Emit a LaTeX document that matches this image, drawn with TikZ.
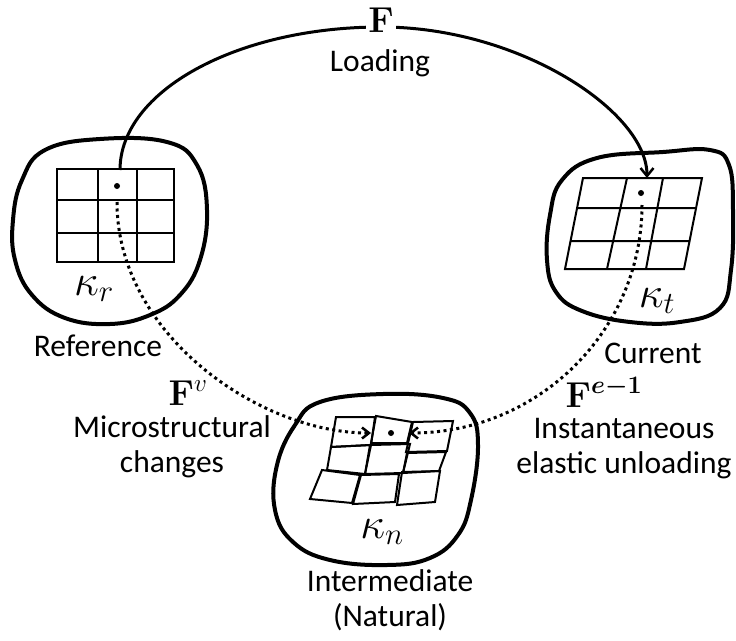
\RequirePackage{fix-cm}
\documentclass[tikz,border=0pt]{standalone}
\usepackage{bm}
\usepackage[no-math]{fontspec}
\setmainfont{Carlito}
\usetikzlibrary{arrows.meta}
\begin{document}
\begin{tikzpicture}[x=1pt,y=-1pt,
 lbl/.style={font=\fontsize{31.5}{35}\selectfont, inner sep=0pt, anchor=base},
 mth/.style={font=\fontsize{36}{40}\selectfont, inner sep=0pt},
 kap/.style={font=\fontsize{44}{48}\selectfont, inner sep=0pt, anchor=base},
 blob/.style={line width=4pt, line join=round},
 gridl/.style={line width=2pt, line join=miter},
 dotnode/.style={circle, fill, inner sep=0pt, minimum size=6pt},
 loadarrow/.style={line width=3pt, -{Straight Barb[length=8pt,width=13pt,line width=2.5pt]}},
 dotarrow/.style={line width=3pt, dash pattern=on 3pt off 3.5pt, -{Straight Barb[length=7pt,width=11pt,line width=2.5pt]}},
]
\useasboundingbox (0,0) rectangle (736,640);

% ---------- Reference configuration ----------
\draw[blob] plot[smooth cycle, tension=0.7] coordinates {
 (100,139) (167,142) (197,165) (207,210) (200,260) (180,295) (150,315)
 (110,324) (65,318) (32,295) (15,260) (13,220) (22,180) (45,150)};
\draw[gridl] (57,169) rectangle (174,262);
\draw[gridl] (98,169) -- (98,262) (137,169) -- (137,262)
             (57,200) -- (174,200) (57,233) -- (174,233);
\node[dotnode] (rdot) at (117,186) {};
\node[kap] (kr) at (94,295) {$\kappa_r$};
\node[lbl] (ref) at (98,356) {Reference};

% ---------- Current configuration ----------
\draw[blob] plot[smooth cycle, tension=0.7] coordinates {
 (597,158) (663,152) (710,150) (729,165) (733,210) (731,270) (720,308)
 (680,322) (630,322) (582,311) (556,292) (547,260) (550,215) (562,180)};
\draw[gridl] (583,178) -- (702,178) -- (684,269) -- (565,269) -- cycle;
\draw[gridl] (577,208) -- (696,208) (571,241) -- (690,241)
             (627,178) -- (607,269) (663,178) -- (646,269);
\node[dotnode] (tdot) at (641,193) {};
\node[kap] (kt) at (657,307) {$\kappa_t$};
\node[lbl] (cur) at (653,363) {Current};

% ---------- Intermediate configuration ----------
\draw[blob] plot[smooth cycle, tension=0.7] coordinates {
 (383,394) (443,398) (470,413) (478,445) (471,500) (458,535) (430,558)
 (387,565) (330,560) (293,542) (275,510) (277,465) (295,425) (320,402)};
\draw[gridl] (336,417) -- (375,417) -- (371,445) -- (331,447) -- cycle;
\draw[gridl] (376,416) -- (412,422) -- (407,443) -- (371,443) -- cycle;
\draw[gridl] (413,422) -- (453,421) -- (447,451) -- (406,452) -- cycle;
\draw[gridl] (331,447) -- (370,445) -- (365,474) -- (327,470) -- cycle;
\draw[gridl] (371,445) -- (410,444) -- (403,473) -- (365,474) -- cycle;
\draw[gridl] (407,453) -- (446,452) -- (439,471) -- (403,473) -- cycle;
\draw[gridl] (322,470) -- (360,475) -- (352,503) -- (310,499) -- cycle;
\draw[gridl] (361,475) -- (399,474) -- (395,502) -- (353,504) -- cycle;
\draw[gridl] (402,472) -- (440,471) -- (435,502) -- (397,505) -- cycle;
\node[dotnode] (ndot) at (391,433) {};
\node[kap] (kn) at (382,538) {$\kappa_n$};
\node[lbl] (int1) at (390,591) {Intermediate};
\node[lbl] (int2) at (390,626) {(Natural)};

% ---------- Loading arc ----------
\coordinate (Fs) at (120,170);
\coordinate (Fend) at (647,178);
\coordinate (Ftop) at (381,27);
\draw[loadarrow] (Fs) .. controls (120,91) and (237,27) .. (Ftop)
                      .. controls (520,27) and (647,112) .. (Fend);
\node[mth, fill=white, inner xsep=2pt] (F) at (381,20.5) {$\mathbf{F}$};
\node[lbl] (load) at (380,71) {Loading};

% ---------- Microstructural changes ----------
\coordinate (Ls) at (117,202);
\coordinate (Le) at (371,433);
\draw[dotarrow] (Ls) .. controls (117,335) and (260,433) .. (Le);
\node[mth, anchor=base] (Fv) at (188,405) {$\mathbf{F}^{v}$};
\node[lbl] (mic1) at (172,437) {Microstructural};
\node[lbl] (mic2) at (172,472) {changes};

% ---------- Elastic unloading ----------
\coordinate (Rs) at (642,205);
\coordinate (Re) at (409,433);
\draw[dotarrow] (Rs) .. controls (642,331) and (538,433) .. (Re);
\node[mth, anchor=base] (Feinv) at (604,407) {$\mathbf{F}^{\bm{e-1}}$};
\node[lbl] (ins1) at (624,438) {Instantaneous};
\node[lbl] (ins2) at (624,473) {elastic unloading};
\end{tikzpicture}
\end{document}
